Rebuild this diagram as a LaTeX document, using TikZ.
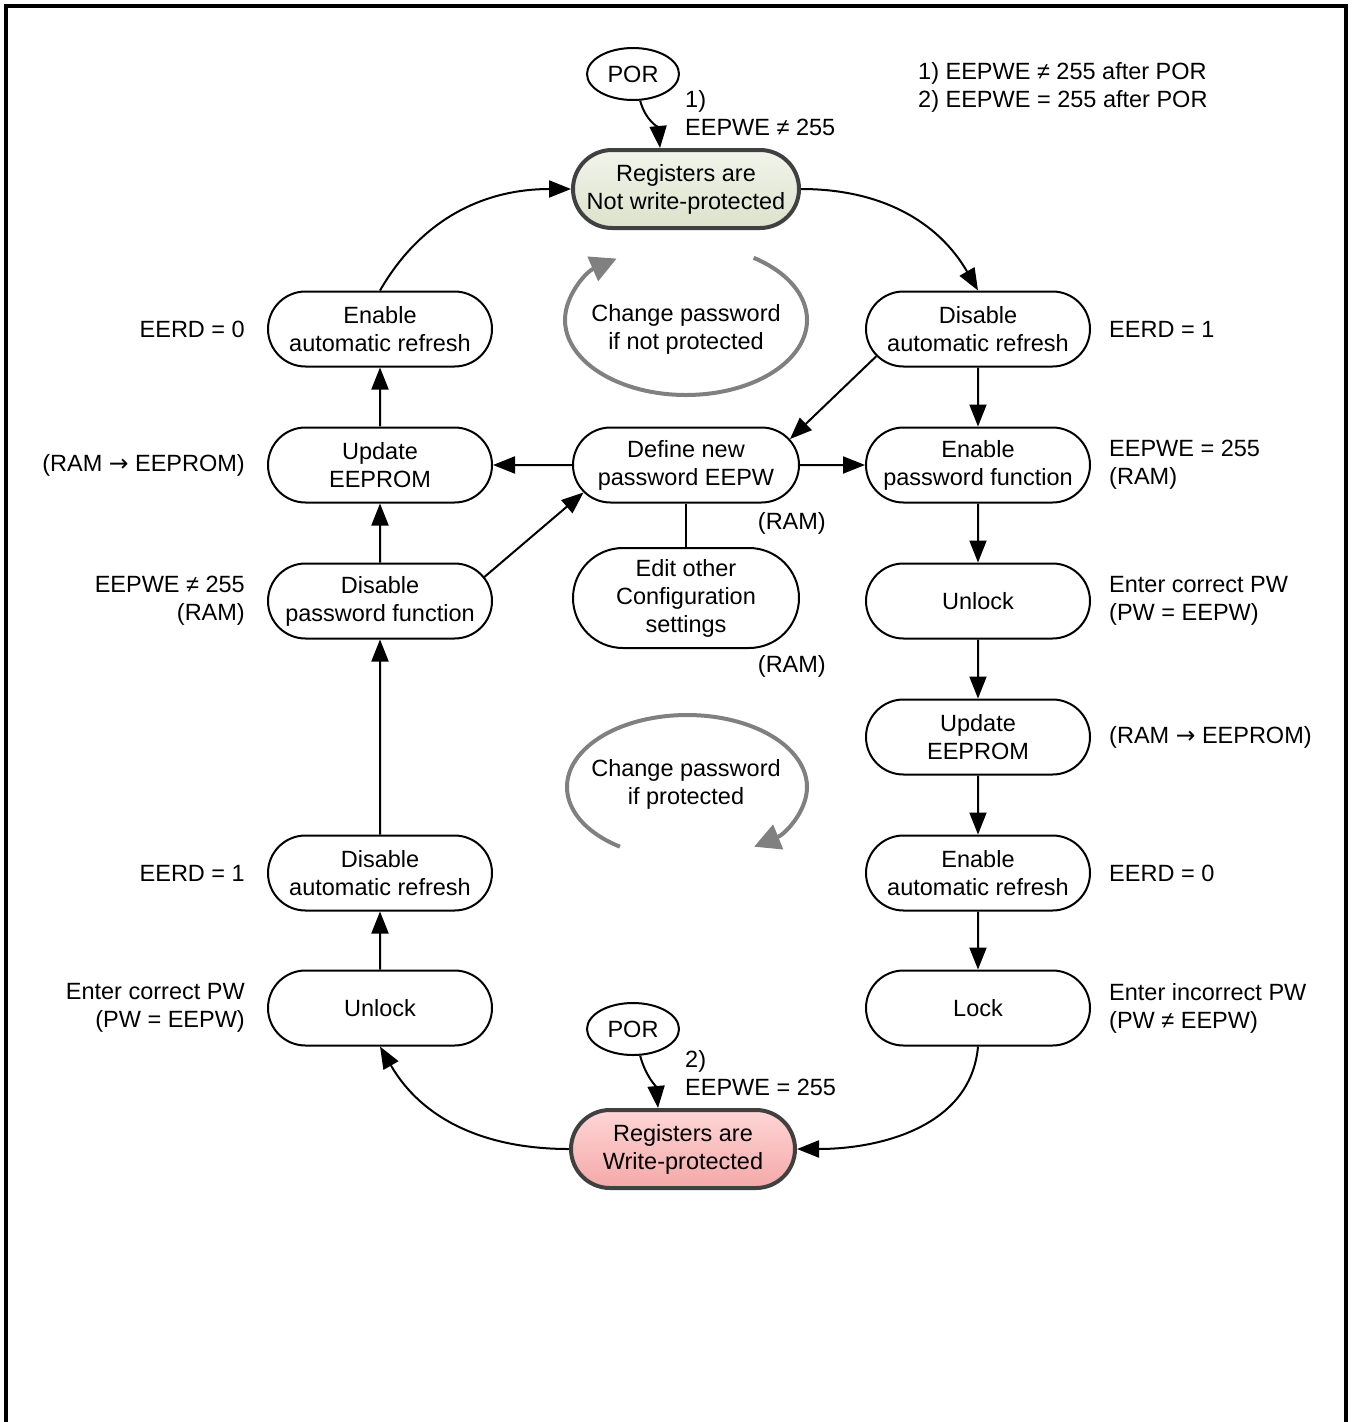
\documentclass[tikz,border=0pt]{standalone}
\usepackage{fontspec}
\setmainfont{Liberation Sans}
\newfontfamily\dvfont{DejaVu Sans}
\usetikzlibrary{shapes.misc,shapes.geometric,arrows.meta,calc}
\definecolor{stborder}{RGB}{64,64,64}
\definecolor{grtop}{RGB}{242,244,234}
\definecolor{grbot}{RGB}{220,226,204}
\definecolor{pktop}{RGB}{255,214,214}
\definecolor{pkbot}{RGB}{244,168,168}
\definecolor{arcgray}{RGB}{128,128,128}
\newcommand{\rarr}{{\dvfont\char"2192}}
\begin{document}
\begin{tikzpicture}[x=1pt,y=1pt,
  font=\fontsize{23.5}{28}\selectfont,
  pill/.style={rounded rectangle, draw=black, line width=2pt, minimum width=226pt, minimum height=75pt, align=center, inner sep=1pt},
  statebox/.style={rounded rectangle, draw=stborder, line width=4pt, minimum width=228pt, minimum height=78pt, align=center, inner sep=1pt},
  porbox/.style={ellipse, draw=black, line width=2pt, minimum width=92pt, minimum height=52pt, inner sep=1pt},
  arr/.style={draw=black, line width=2pt, -{Triangle[length=22pt,width=17pt]}},
  plainline/.style={draw=black, line width=2pt},
  garr/.style={draw=arcgray, line width=4pt, -{Triangle[length=26pt,width=26pt]}},
  lbl/.style={inner sep=0pt, align=left},
  lblr/.style={inner sep=0pt, align=right}
]
\useasboundingbox (0,0) rectangle (1352,-1422);
% frame
\draw[line width=4pt] (6,-1424) -- (6,-6) -- (1346,-6) -- (1346,-1424);

% top state and POR
\node[porbox] (por1) at (633,-74) {POR};
\node[statebox, top color=grtop, bottom color=grbot] (tsn) at (686,-189) {Registers are\\Not write-protected};
\node[lbl, anchor=west] (l1) at (685,-113.5) {1)\\EEPWE ≠ 255};
\node[lbl, anchor=west] (legend) at (918,-87) {1) EEPWE ≠ 255 after POR\\2) EEPWE = 255 after POR};

% left column
\node[pill] (ear1) at (380,-329) {Enable\\automatic refresh};
\node[pill] (uel) at (380,-465) {Update\\EEPROM};
\node[pill] (dpf) at (380,-601) {Disable\\password function};
\node[pill] (dar1) at (380,-873) {Disable\\automatic refresh};
\node[pill] (unl1) at (380,-1008) {Unlock};

% right column
\node[pill] (dar2) at (978,-329) {Disable\\automatic refresh};
\node[pill] (epf) at (978,-465) {Enable\\password function};
\node[pill] (unl2) at (978,-601) {Unlock};
\node[pill] (uer) at (978,-737) {Update\\EEPROM};
\node[pill] (ear2) at (978,-873) {Enable\\automatic refresh};
\node[pill] (lock) at (978,-1008) {Lock};

% middle
\node[pill, minimum width=228pt] (def) at (686,-465) {Define new\\password EEPW};
\node[pill, minimum width=228pt, minimum height=100pt] (edit) at (686,-598) {Edit other\\Configuration\\settings};

% bottom state and POR
\node[porbox] (por2) at (633,-1029) {POR};
\node[statebox, minimum width=226pt, top color=pktop, bottom color=pkbot] (tsw) at (683,-1149) {Registers are\\Write-protected};
\node[lbl, anchor=west] (l2) at (685,-1073) {2)\\EEPWE = 255};

% side labels
\node[lblr, anchor=east] (t1) at (245,-329) {EERD = 0};
\node[lbl, anchor=west] (t2) at (1109,-329) {EERD = 1};
\node[lblr, anchor=east] (t3) at (245,-465) {(RAM \rarr{} EEPROM)};
\node[lbl, anchor=west] (t4) at (1109,-465) {EEPWE = 255\\(RAM)};
\node[lblr, anchor=east] (t5) at (826,-523) {(RAM)};
\node[lblr, anchor=east] (t6) at (245,-601) {EEPWE ≠ 255\\(RAM)};
\node[lbl, anchor=west] (t7) at (1109,-601) {Enter correct PW\\(PW = EEPW)};
\node[lblr, anchor=east] (t8) at (826,-666) {(RAM)};
\node[lbl, anchor=west] (t9) at (1109,-737) {(RAM \rarr{} EEPROM)};
\node[lblr, anchor=east] (t10) at (245,-873) {EERD = 1};
\node[lbl, anchor=west] (t11) at (1109,-873) {EERD = 0};
\node[lblr, anchor=east] (t12) at (245,-1008) {Enter correct PW\\(PW = EEPW)};
\node[lbl, anchor=west] (t13) at (1109,-1008) {Enter incorrect PW\\(PW ≠ EEPW)};

% change password loops
\node[align=center, inner sep=0pt] (cp1) at (686,-329) {Change password\\if not protected};
\node[align=center, inner sep=0pt] (cp2) at (686,-784) {Change password\\if protected};
\coordinate (c1s) at ($(686,-320)+(56:121 and 75)$);
\draw[garr] (c1s) arc[start angle=56, end angle=-235, x radius=121, y radius=75];
\coordinate (c2s) at ($(687,-787)+(236:120 and 72)$);
\draw[garr] (c2s) arc[start angle=236, end angle=-56, x radius=120, y radius=72];

% connectors
\draw[arr] (por1) to[out=-75, in=95] (tsn.north -| 660,0);
\draw[arr] (tsn.east) to[out=0, in=120] (dar2.north);
\draw[arr] (ear1.north) to[out=60, in=180] (tsn.west);

\draw[arr] (uel) -- (ear1);
\draw[arr] (dpf) -- (uel);
\draw[arr] (dar1) -- (dpf);
\draw[arr] (unl1) -- (dar1);

\draw[arr] (dar2) -- (epf);
\draw[arr] (epf) -- (unl2);
\draw[arr] (unl2) -- (uer);
\draw[arr] (uer) -- (ear2);
\draw[arr] (ear2) -- (lock);

\draw[arr] (dar2.195) -- (def.14);
\draw[arr] (dpf.13) -- (def.195);
\draw[arr] (def) -- (uel);
\draw[arr] (def) -- (epf);
\draw[plainline] (def) -- (edit);

\draw[arr] (lock.south) to[out=-95, in=0] (tsw.east);
\draw[arr] (tsw.west) to[out=180, in=-60] (unl1.south);
\draw[arr] (por2) to[out=-75, in=95] (tsw.north -| 658,0);
\end{tikzpicture}
\end{document}
